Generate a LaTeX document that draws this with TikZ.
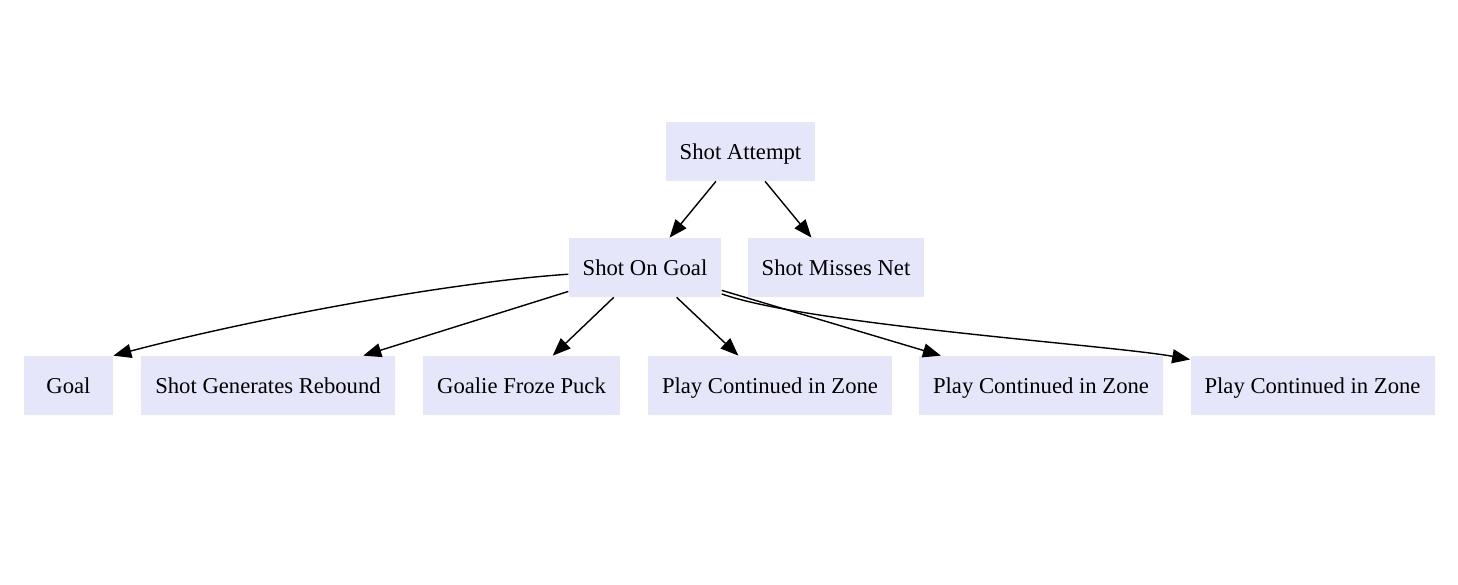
\documentclass[tikz,border=0pt]{standalone}
\usepackage{fontspec}
\setmainfont{Liberation Serif}
\usetikzlibrary{arrows.meta, positioning, calc}
\definecolor{lavanda}{HTML}{E6E6FA}
\definecolor{negro}{HTML}{000000}
\tikzset{
  caja/.style={rectangle, minimum height=1.18cm, inner xsep=0.28cm, text centered,
               text height=0.42cm, text depth=0.12cm,
               fill=lavanda, font=\fontsize{12.9}{15}\selectfont, align=center},
  arrow/.style={line width=0.8pt,-{Triangle[length=0.36cm,width=0.28cm]},color=negro}
}
\begin{document}
\begin{tikzpicture}
  \useasboundingbox (0,0) rectangle (29.16,11.68);
  \node (a1) [caja] at (14.81,8.65) {Shot Attempt};
  \node (b1) [caja] at (12.90,6.33) {Shot On Goal};
  \node (b2) [caja] at (16.72,6.33) {Shot Misses Net};
  \node (c1) [caja, minimum width=1.78cm] at (1.37,3.97) {Goal};
  \node (c2) [caja] at (5.36,3.97) {Shot Generates Rebound};
  \node (c3) [caja] at (10.43,3.97) {Goalie Froze Puck};
  \node (c4) [caja] at (15.40,3.97) {Play Continued in Zone};
  \node (c5) [caja] at (20.82,3.97) {Play Continued in Zone};
  \node (c6) [caja] at (26.25,3.97) {Play Continued in Zone};
  \draw [arrow] (a1) -- (b1); \draw [arrow] (a1) -- (b2);
  \draw [arrow] (b1.185) .. controls (8.80,6.02) and (4.80,5.24) .. (c1.north east);
  \draw [arrow] (b1) -- (c2); \draw [arrow] (b1) -- (c3);
  \draw [arrow] (b1) -- (c4); \draw [arrow] (b1) -- (c5);
  \draw [arrow] (b1.-19) .. controls (16.2,5.18) and (22.2,4.78) .. (c6.168);
\end{tikzpicture}
\end{document}
